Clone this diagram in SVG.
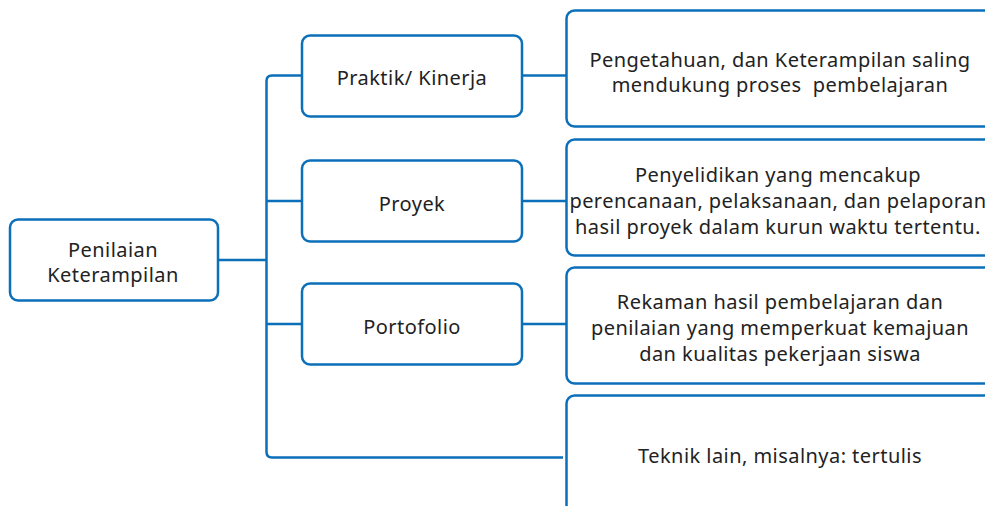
<svg xmlns="http://www.w3.org/2000/svg" width="985" height="506" viewBox="0 0 985 506">
<style>
.box{fill:#fff;stroke:#0b6fb9;stroke-width:2.5}
.ln{fill:none;stroke:#0b6fb9;stroke-width:2.5}
text{font-family:"Noto Sans","Liberation Sans",sans-serif;font-size:20px;letter-spacing:0.45px;fill:#222;text-anchor:middle}
</style>
<rect width="985" height="506" fill="#fff"/>
<g id="connectors">
<path class="ln" d="M218,260 H266"/>
<path class="ln" d="M302,75.5 H272 Q266.5,75.5 266.5,81 V452 Q266.5,457.5 272,457.5 H563"/>
<path class="ln" d="M266,201 H302"/>
<path class="ln" d="M266,324 H302"/>
<path class="ln" d="M522,75.5 H566"/>
<path class="ln" d="M522,201 H566"/>
<path class="ln" d="M522,324 H566"/>
</g>
<g id="n-penilaian">
<rect class="box" x="10" y="219.5" width="208" height="81" rx="8"/>
<text x="113" y="257">Penilaian</text>
<text x="113" y="282">Keterampilan</text>
</g>
<g id="n-praktik">
<rect class="box" x="302" y="35.5" width="220" height="81" rx="8"/>
<text x="412" y="85">Praktik/ Kinerja</text>
</g>
<g id="n-proyek">
<rect class="box" x="302" y="160.5" width="220" height="81" rx="8"/>
<text x="412" y="211">Proyek</text>
</g>
<g id="n-portofolio">
<rect class="box" x="302" y="283.5" width="220" height="81" rx="8"/>
<text x="412" y="334">Portofolio</text>
</g>
<g id="n-desc1">
<rect class="box" x="566.5" y="10.5" width="440" height="116" rx="8"/>
<text x="780" y="67">Pengetahuan, dan Keterampilan saling</text>
<text x="780" y="92" xml:space="preserve">mendukung proses  pembelajaran</text>
</g>
<g id="n-desc2">
<rect class="box" x="566.5" y="139.5" width="440" height="116" rx="8"/>
<text x="778" y="182">Penyelidikan yang mencakup</text>
<text x="778" y="208">perencanaan, pelaksanaan, dan pelaporan</text>
<text x="778" y="234">hasil proyek dalam kurun waktu tertentu.</text>
</g>
<g id="n-desc3">
<rect class="box" x="566.5" y="267.5" width="440" height="116" rx="8"/>
<text x="780" y="309">Rekaman hasil pembelajaran dan</text>
<text x="780" y="335">penilaian yang memperkuat kemajuan</text>
<text x="780" y="361">dan kualitas pekerjaan siswa</text>
</g>
<g id="n-desc4">
<rect class="box" x="566.5" y="395.5" width="440" height="140" rx="8"/>
<text x="780" y="463">Teknik lain, misalnya: tertulis</text>
</g>
</svg>
